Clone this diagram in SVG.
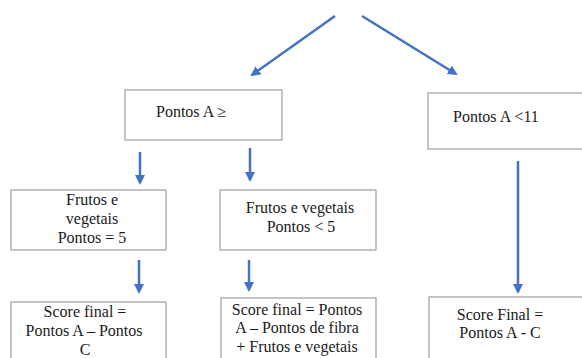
<svg xmlns="http://www.w3.org/2000/svg" width="582" height="358" viewBox="0 0 582 358">
<style>
.box{fill:#fff;stroke:#a6a6a6;stroke-width:1.3}
.t{font-family:'Liberation Serif',serif;font-size:16px;fill:#1a1a1a}
.c{text-anchor:middle}
.ar{stroke:#4472c4;stroke-width:2.5;fill:none;marker-end:url(#ah)}
</style>
<defs>
<marker id="ah" viewBox="0 0 10 10" refX="8" refY="5" markerWidth="4" markerHeight="4" orient="auto" markerUnits="strokeWidth">
<path d="M0,0 L10,5 L0,10 z" fill="#4472c4"/>
</marker>
</defs>
<rect width="582" height="358" fill="#fff"/>
<g id="connectors">
<line class="ar" x1="335" y1="16" x2="252" y2="75"/>
<line class="ar" x1="362" y1="16" x2="456" y2="74"/>
<line class="ar" x1="140" y1="152" x2="140" y2="183"/>
<line class="ar" x1="250" y1="148" x2="250" y2="180"/>
<line class="ar" x1="518" y1="161" x2="518" y2="292"/>
<line class="ar" x1="139" y1="260" x2="139" y2="292"/>
<line class="ar" x1="249" y1="260" x2="249" y2="290"/>
</g>
<g id="n1">
<rect class="box" x="125" y="90" width="157" height="50"/>
<text class="t" style="font-family:'Liberation Serif',serif" x="156" y="117">Pontos A ≥</text>
</g>
<g id="n2">
<rect class="box" x="428" y="93" width="160" height="56"/>
<text class="t" style="font-family:'Liberation Serif',serif" x="453" y="122">Pontos A &lt;11</text>
</g>
<g id="n3">
<rect class="box" x="11" y="190" width="155" height="60"/>
<text class="t c" style="font-family:'Liberation Serif',serif" x="92" y="205">Frutos e</text>
<text class="t c" style="font-family:'Liberation Serif',serif" x="92" y="224">vegetais</text>
<text class="t c" style="font-family:'Liberation Serif',serif" x="92" y="243">Pontos = 5</text>
</g>
<g id="n4">
<rect class="box" x="220" y="190" width="156" height="60"/>
<text class="t c" style="font-family:'Liberation Serif',serif" x="300" y="213">Frutos e vegetais</text>
<text class="t c" style="font-family:'Liberation Serif',serif" x="301" y="232">Pontos &lt; 5</text>
</g>
<g id="n5">
<rect class="box" x="11" y="302" width="155" height="60"/>
<text class="t c" style="font-family:'Liberation Serif',serif" x="85" y="317">Score final =</text>
<text class="t c" style="font-family:'Liberation Serif',serif" x="84" y="336">Pontos A – Pontos</text>
<text class="t c" style="font-family:'Liberation Serif',serif" x="85" y="355">C</text>
</g>
<g id="n6">
<rect class="box" x="221" y="298" width="155" height="64"/>
<text class="t c" style="font-family:'Liberation Serif',serif" x="297" y="315">Score final = Pontos</text>
<text class="t c" style="font-family:'Liberation Serif',serif" x="297" y="333">A – Pontos de fibra</text>
<text class="t c" style="font-family:'Liberation Serif',serif" x="297" y="352">+ Frutos e vegetais</text>
</g>
<g id="n7">
<rect class="box" x="429" y="297" width="160" height="65"/>
<text class="t c" style="font-family:'Liberation Serif',serif" x="500" y="320">Score Final =</text>
<text class="t c" style="font-family:'Liberation Serif',serif" x="500" y="338">Pontos A - C</text>
</g>
</svg>
